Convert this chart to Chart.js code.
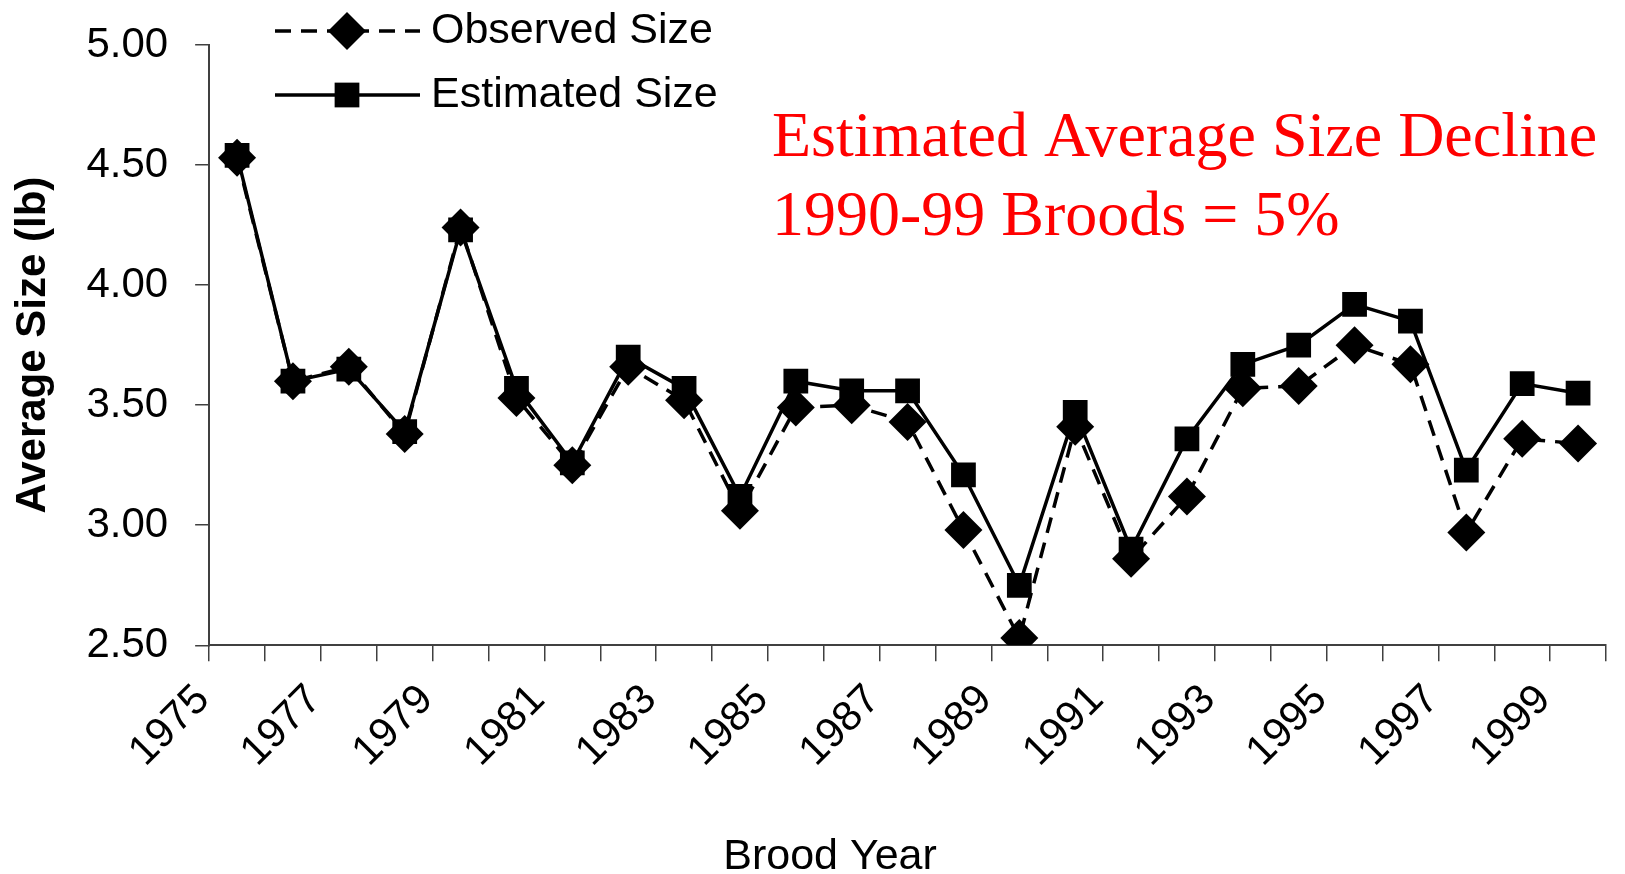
<!DOCTYPE html>
<html>
<head>
<meta charset="utf-8">
<script src="https://cdn.jsdelivr.net/npm/chart.js@4.4.1/dist/chart.umd.min.js"></script>
<style>
    html, body { margin: 0; padding: 0; background: #fff; }
    #wrap { width: 1625px; height: 874px; }
</style>
</head>
<body>
<div id="wrap"><canvas id="sizeChart"></canvas></div>
<script>
const broodYears = ['1975', '1976', '1977', '1978', '1979', '1980', '1981', '1982', '1983', '1984',
    '1985', '1986', '1987', '1988', '1989', '1990', '1991', '1992', '1993', '1994',
    '1995', '1996', '1997', '1998', '1999'];
const observedSize = [4.53, 3.60, 3.66, 3.38, 4.24, 3.53, 3.25, 3.66, 3.52, 3.06,
    3.49, 3.50, 3.43, 2.98, 2.53, 3.41, 2.86, 3.12, 3.57, 3.58,
    3.75, 3.67, 2.97, 3.36, 3.34];
const estimatedSize = [4.54, 3.60, 3.65, 3.39, 4.23, 3.57, 3.26, 3.70, 3.57, 3.12,
    3.60, 3.56, 3.56, 3.21, 2.75, 3.47, 2.90, 3.36, 3.67, 3.75,
    3.92, 3.85, 3.23, 3.59, 3.55];
const yTicks = [2.5, 3.0, 3.5, 4.0, 4.5, 5.0];
const noteLines = ['Estimated Average Size Decline', '1990-99 Broods = 5%'];
const xTitle = 'Brood Year';

const sansFont = '"Liberation Sans", Arial, sans-serif';
const axisColor = '#404040';

// legend drawn as line + marker, like the original
const lineLegend = {
    id: 'lineLegend',
    afterDraw(chart) {
        const ctx = chart.ctx;
        chart.data.datasets.forEach((ds, i) => {
            const y = 31 + i * 64;
            ctx.save();
            ctx.strokeStyle = ds.borderColor;
            ctx.lineWidth = ds.borderWidth;
            ctx.setLineDash(ds.borderDash || []);
            ctx.beginPath();
            ctx.moveTo(275, y);
            ctx.lineTo(420, y);
            ctx.stroke();
            ctx.setLineDash([]);
            ctx.fillStyle = ds.pointBackgroundColor;
            Chart.helpers.drawPoint(ctx, { pointStyle: ds.pointStyle, radius: ds.pointRadius, borderWidth: 0, rotation: 0 }, 347, y);
            ctx.fillStyle = '#000';
            ctx.font = '43px ' + sansFont;
            ctx.textBaseline = 'middle';
            ctx.fillText(ds.label, 431, y);
            ctx.restore();
        });
    }
};

// red note in the upper right, plus the x axis title (sits left of plot centre in the original)
const extraText = {
    id: 'extraText',
    afterDraw(chart) {
        const ctx = chart.ctx;
        ctx.save();
        ctx.fillStyle = '#ff0000';
        ctx.font = '64px "Liberation Serif", "Times New Roman", serif';
        ctx.textBaseline = 'alphabetic';
        noteLines.forEach((t, i) => ctx.fillText(t, 772, 156 + i * 79));
        ctx.fillStyle = '#000';
        ctx.font = '43px ' + sansFont;
        ctx.textAlign = 'center';
        ctx.fillText(xTitle, 830, 869);
        ctx.restore();
    }
};

const ctx = document.getElementById('sizeChart').getContext('2d');
new Chart(ctx, {
    type: 'line',
    data: {
        labels: broodYears,
        datasets: [{
            label: 'Observed Size',
            data: observedSize,
            borderColor: '#000',
            borderWidth: 3.5,
            borderDash: [16, 10],
            pointStyle: 'rectRot',
            pointRadius: 19,
            pointBackgroundColor: '#000',
            pointBorderWidth: 0,
            tension: 0
        }, {
            label: 'Estimated Size',
            data: estimatedSize,
            borderColor: '#000',
            borderWidth: 3.5,
            pointStyle: 'rect',
            pointRadius: 17.5,
            pointBackgroundColor: '#000',
            pointBorderWidth: 0,
            tension: 0
        }]
    },
    options: {
        responsive: true,
        maintainAspectRatio: false,
        animation: false,
        layout: { padding: { top: 45, right: -3, left: 4, bottom: 83 } },
        plugins: {
            legend: { display: false },
            tooltip: { enabled: false }
        },
        scales: {
            x: {
                offset: true,
                afterFit(scale) { scale.paddingLeft = 0; scale.paddingRight = 0; },
                grid: { offset: true, drawOnChartArea: false, tickLength: 16, color: axisColor, lineWidth: 1.5 },
                border: { color: axisColor, width: 2 },
                ticks: {
                    autoSkip: false,
                    maxRotation: 45,
                    minRotation: 45,
                    padding: 14,
                    labelOffset: -34,
                    color: '#000',
                    font: { family: sansFont, size: 42 },
                    callback(v, i) { return i % 2 === 0 ? this.getLabelForValue(v) : ''; }
                }
            },
            y: {
                min: yTicks[0],
                max: yTicks[yTicks.length - 1],
                afterBuildTicks(scale) { scale.ticks = yTicks.map(v => ({ value: v })); },
                afterFit(scale) { scale.paddingTop = 0; scale.paddingBottom = 0; },
                grid: { drawOnChartArea: false, tickLength: 14, color: axisColor, lineWidth: 1.5 },
                border: { color: axisColor, width: 2 },
                ticks: {
                    padding: 27,
                    color: '#000',
                    font: { family: sansFont, size: 42 },
                    callback: v => v.toFixed(2)
                },
                title: {
                    display: true,
                    text: 'Average Size (lb)',
                    color: '#000',
                    font: { family: sansFont, size: 42, weight: 'bold' },
                    padding: { top: 4, bottom: 1 }
                }
            }
        }
    },
    plugins: [lineLegend, extraText]
});
</script>
</body>
</html>
